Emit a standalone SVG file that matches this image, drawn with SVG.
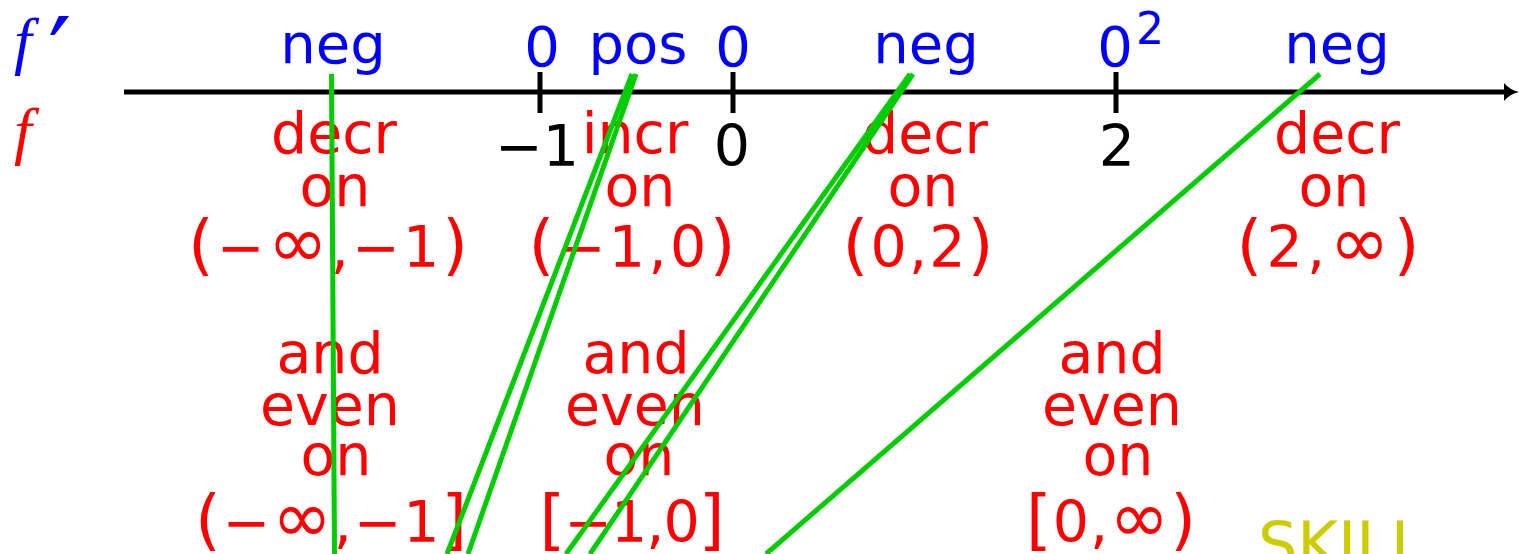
<svg xmlns="http://www.w3.org/2000/svg" width="1519" height="554" viewBox="0 0 1519 554">
<style>
.b{font-family:"DejaVu Sans",sans-serif;font-size:56px;fill:#0000ff;text-anchor:middle}
.r{font-family:"DejaVu Sans",sans-serif;font-size:57px;fill:#ff0000;text-anchor:middle}
.k{font-family:"DejaVu Sans",sans-serif;font-size:57px;fill:#000000;text-anchor:middle}
.m{font-family:"Liberation Serif","DejaVu Serif",serif;font-style:italic}
.br{font-size:66px}
.inf{font-size:72px}
.g{stroke:#00cc00;stroke-width:5;fill:none}
</style>
<rect width="1519" height="554" fill="#ffffff"/>
<g id="labels">
<text class="m" x="14" y="62" font-size="64" fill="#0000ff">f</text>
<text x="48" y="92" font-family="DejaVu Sans, sans-serif" font-size="104" fill="#0000ff">′</text>
<text class="m" x="14" y="152" font-size="64" fill="#ff0000">f</text>
</g>
<g id="axis">
<line x1="124" y1="92" x2="1510" y2="92" stroke="#000" stroke-width="5"/>
<path d="M1504,83 Q1510,90 1519,92 Q1510,94 1504,101 Z" fill="#000"/>
<line x1="540" y1="72" x2="540" y2="113" stroke="#000" stroke-width="5"/>
<line x1="733" y1="72" x2="733" y2="113" stroke="#000" stroke-width="5"/>
<line x1="1116" y1="72" x2="1116" y2="113" stroke="#000" stroke-width="5"/>
<text class="k" x="537" y="166">−1</text>
<text class="k" x="732" y="166">0</text>
<text class="k" x="1117" y="166">2</text>
</g>
<g id="fprime-row">
<text class="b" x="333" y="63">neg</text>
<text class="b" x="542" y="66">0</text>
<text class="b" x="638" y="63">pos</text>
<text class="b" x="733" y="66">0</text>
<text class="b" x="926" y="63">neg</text>
<text class="b" x="1115" y="66">0</text>
<text class="b" x="1150" y="44" style="font-size:44px">2</text>
<text class="b" x="1337" y="63">neg</text>
</g>
<g id="col1">
<text class="r" x="334" y="153">decr</text>
<text class="r" x="335" y="206">on</text>
<text class="r" x="328" y="267" textLength="280" lengthAdjust="spacing"><tspan class="br">(</tspan>−<tspan class="inf">∞</tspan>,−1<tspan class="br">)</tspan></text>
<text class="r" x="330" y="373">and</text>
<text class="r" x="330" y="425">even</text>
<text class="r" x="336" y="475">on</text>
<text class="r" x="331" y="542" textLength="272" lengthAdjust="spacing"><tspan class="br">(</tspan>−<tspan class="inf">∞</tspan>,−1<tspan class="br">]</tspan></text>
</g>
<g id="col2">
<text class="r" x="635" y="153">incr</text>
<text class="r" x="640" y="206">on</text>
<text class="r" x="632" y="267" textLength="207" lengthAdjust="spacing"><tspan class="br">(</tspan>−1,0<tspan class="br">)</tspan></text>
<text class="r" x="636" y="373">and</text>
<text class="r" x="635" y="425">even</text>
<text class="r" x="639" y="475">on</text>
<text class="r" x="632" y="542" textLength="185" lengthAdjust="spacing"><tspan class="br">[</tspan>−1,0<tspan class="br">]</tspan></text>
</g>
<g id="col3">
<text class="r" x="925" y="153">decr</text>
<text class="r" x="923" y="206">on</text>
<text class="r" x="918" y="267" textLength="151" lengthAdjust="spacing"><tspan class="br">(</tspan>0,2<tspan class="br">)</tspan></text>
</g>
<g id="col4">
<text class="r" x="1112" y="373">and</text>
<text class="r" x="1112" y="425">even</text>
<text class="r" x="1118" y="475">on</text>
<text class="r" x="1111" y="542" textLength="170" lengthAdjust="spacing"><tspan class="br">[</tspan>0,<tspan class="inf">∞</tspan><tspan class="br">)</tspan></text>
</g>
<g id="col5">
<text class="r" x="1337" y="153">decr</text>
<text class="r" x="1334" y="206">on</text>
<text class="r" x="1328" y="267" textLength="183" lengthAdjust="spacing"><tspan class="br">(</tspan>2,<tspan class="inf">∞</tspan><tspan class="br">)</tspan></text>
</g>
<g id="skill">
<text x="1258" y="566" font-family="DejaVu Sans, sans-serif" font-size="62" fill="#cccc00">SKILL</text>
</g>
<g id="connectors">
<line class="g" x1="331.5" y1="74" x2="334.5" y2="554"/>
<line class="g" x1="632" y1="74" x2="447" y2="554"/>
<line class="g" x1="636" y1="74" x2="468" y2="554"/>
<line class="g" x1="910" y1="74" x2="566" y2="554"/>
<line class="g" x1="913" y1="74" x2="590" y2="554"/>
<line class="g" x1="1320" y1="74" x2="766" y2="554"/>
</g>
</svg>
